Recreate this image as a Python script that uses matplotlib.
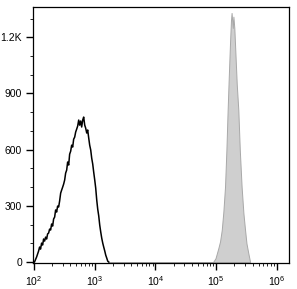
"""Flow cytometry overlay histogram: isotype/unstained (black line) vs stained (grey fill)."""

import matplotlib

matplotlib.use("Agg")
import matplotlib.pyplot as plt
import numpy as np
from matplotlib.ticker import FixedLocator, LogLocator, NullFormatter

plt.rcParams["font.family"] = ["Liberation Sans", "DejaVu Sans"]
plt.rcParams["mathtext.default"] = "regular"

# control population (black outline), log10 of fluorescence vs event count
ctrl_log = [2.01, 2.045, 2.078, 2.094, 2.11, 2.127, 2.144, 2.16, 2.177, 2.193,
            2.21, 2.226, 2.243, 2.259, 2.276, 2.292, 2.309, 2.325, 2.342, 2.358,
            2.375, 2.391, 2.408, 2.424, 2.441, 2.457, 2.474, 2.49, 2.507, 2.523,
            2.54, 2.556, 2.573, 2.589, 2.606, 2.622, 2.639, 2.655, 2.672, 2.688,
            2.705, 2.721, 2.738, 2.754, 2.771, 2.787, 2.804, 2.82, 2.837, 2.853,
            2.87, 2.886, 2.903, 2.919, 2.936, 2.952, 2.969, 2.985, 3.002, 3.018,
            3.035, 3.051, 3.068, 3.084, 3.101, 3.117, 3.134, 3.15, 3.167, 3.183,
            3.2, 3.216, 3.233]
ctrl_count = [0, 27, 59, 80, 69, 101, 91, 123, 112, 133,
              123, 150, 155, 176, 171, 203, 192, 230, 240, 278,
              267, 299, 294, 326, 368, 384, 400, 416, 438, 475,
              491, 534, 518, 576, 592, 624, 614, 656, 667, 694,
              710, 726, 758, 731, 753, 721, 758, 774, 731, 715,
              689, 705, 662, 624, 598, 555, 523, 480, 438, 395,
              331, 283, 246, 198, 160, 128, 101, 80, 59, 37,
              21, 5, 0]

# stained population (grey filled); flat zero baseline from the end of the control
stain_log = [3.233, 4.95, 4.99, 5.036, 5.065, 5.093, 5.12, 5.147, 5.17, 5.19, 5.21,
             5.229, 5.245, 5.255, 5.265, 5.275, 5.285, 5.30, 5.32, 5.34, 5.366,
             5.39, 5.42, 5.45, 5.477, 5.50, 5.53, 5.56]
stain_count = [0, 0, 20, 73, 110, 171, 270, 402, 600, 811, 1000,
               1167, 1290, 1330, 1290, 1250, 1310, 1250, 1100, 950, 811,
               600, 402, 260, 171, 100, 48, 0]

y_ticks = [0, 300, 600, 900, 1200]
y_labels = ["0", "300", "600", "900", "1.2K"]

fig = plt.figure(figsize=(2.97, 2.89), dpi=100)
ax = fig.add_axes([0.112, 0.090, 0.861, 0.886])

ax.fill_between(10 ** np.array(stain_log), stain_count, color="#cfcfcf",
                edgecolor="#a8a8a8", linewidth=0.7, zorder=2)
ax.plot(10 ** np.array(ctrl_log), ctrl_count, color="black", linewidth=1.1, zorder=3)

ax.set_xscale("log")
ax.set_xlim(10 ** 1.99, 10 ** 6.2)
ax.set_ylim(-5, 1362)

ax.xaxis.set_major_locator(LogLocator(base=10, numticks=10))
ax.xaxis.set_minor_locator(LogLocator(base=10, subs=np.arange(2, 10), numticks=20))
ax.xaxis.set_minor_formatter(NullFormatter())

ax.yaxis.set_major_locator(FixedLocator(y_ticks))
ax.set_yticklabels(y_labels)
ax.yaxis.set_minor_locator(FixedLocator(np.arange(100, 1400, 100)))

ax.tick_params(which="major", direction="out", length=5, width=1.0,
               labelsize=7.5, pad=3, color="black")
ax.tick_params(which="minor", direction="out", length=2.5, width=0.6, color="black")
ax.tick_params(axis="x", which="major", pad=3)

for sp in ax.spines.values():
    sp.set_linewidth(0.9)

fig.savefig("out.png", dpi=100)
